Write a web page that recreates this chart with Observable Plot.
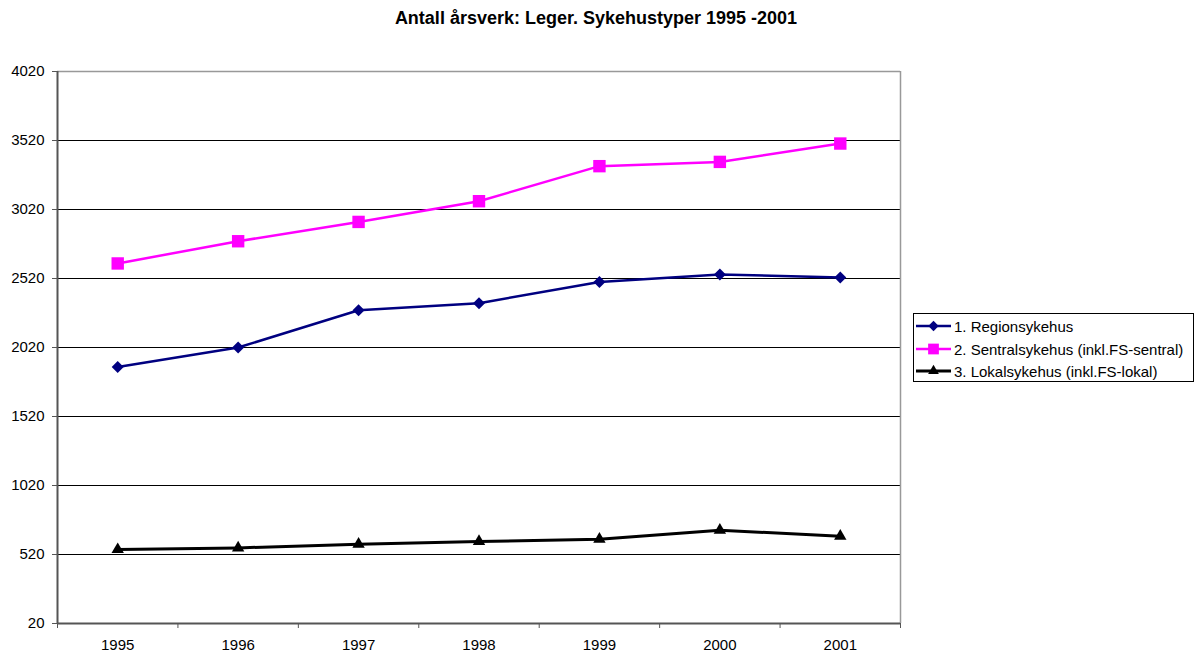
<!DOCTYPE html>
<html><head><meta charset="utf-8">
<script src="https://cdn.jsdelivr.net/npm/d3@7"></script>
<script src="https://cdn.jsdelivr.net/npm/@observablehq/plot@0.6"></script>
<style>
body{margin:0;background:#fff;font-family:"Liberation Sans",Arial,sans-serif;}
#wrap{position:relative;width:1201px;height:654px;}
#title{position:absolute;top:9px;left:0;width:1192px;text-align:center;font-weight:bold;font-size:18px;line-height:18px;}
#legend{position:absolute;left:913px;top:313px;width:279px;height:67px;border:1px solid #000;background:#fff;font-size:15px;}
.row{position:absolute;left:0;height:22px;display:flex;align-items:center;white-space:nowrap;}
.row svg{display:block;margin-right:2px;}
</style></head>
<body>
<div id="wrap">
<div id="chart"></div>
<div id="title">Antall årsverk: Leger. Sykehustyper 1995 -2001</div>
<div id="legend"></div>
</div>
<script>
const years = [1995, 1996, 1997, 1998, 1999, 2000, 2001];
const seriesNames = ["1. Regionsykehus", "2. Sentralsykehus (inkl.FS-sentral)", "3. Lokalsykehus (inkl.FS-lokal)"];
const region  = [1879, 2020, 2290, 2341, 2495, 2549, 2527];
const sentral = [2629, 2790, 2930, 3080, 3334, 3365, 3498];
const lokal   = [556, 568, 595, 614, 631, 696, 653];
const yTicks = [20, 520, 1020, 1520, 2020, 2520, 3020, 3520, 4020];
const colors = ["#000080", "#ff00ff", "#000000"];
const symbols = ["diamond2", "square", "triangle"];
const radii = [5.4, 7, 4.6];
const widths = [2.5, 2.5, 3];

const values = [region, sentral, lokal];
const data = [];
seriesNames.forEach((s, i) => years.forEach((y, j) => data.push({series: s, idx: i, year: y, value: values[i][j]})));
const bounds = years.map(y => y - 0.5).concat([years[years.length - 1] + 0.5]);

const chart = Plot.plot({
  width: 1201, height: 654,
  marginTop: 71, marginBottom: 31, marginLeft: 57, marginRight: 301,
  style: {fontFamily: "Liberation Sans, Arial, sans-serif", fontSize: "15px", color: "#000", background: "transparent"},
  x: {domain: [bounds[0], bounds[bounds.length - 1]]},
  y: {domain: [yTicks[0], yTicks[yTicks.length - 1]]},
  color: {domain: seriesNames, range: colors},
  symbol: {domain: seriesNames, range: symbols},
  marks: [
    Plot.ruleY(yTicks.slice(1, -1), {stroke: "#000", strokeWidth: 1}),
    Plot.ruleY([yTicks[yTicks.length - 1]], {stroke: "#999", strokeWidth: 1.5}),
    Plot.ruleX([bounds[bounds.length - 1]], {stroke: "#999", strokeWidth: 1.5}),
    Plot.ruleX([bounds[0]], {stroke: "#555", strokeWidth: 2}),
    Plot.ruleY([yTicks[0]], {stroke: "#555", strokeWidth: 2}),
    Plot.axisY({ticks: yTicks, tickSize: 5, tickPadding: 8, tickFormat: d => String(d), label: null, stroke: "#555"}),
    Plot.axisX({ticks: bounds, tickSize: 5, tickFormat: () => "", label: null, stroke: "#555"}),
    Plot.axisX({ticks: years, tickSize: 0, tickPadding: 16, tickFormat: d => String(d), label: null}),
    ...seriesNames.map((s, i) => Plot.line(data.filter(d => d.idx === i), {x: "year", y: "value", stroke: "series", strokeWidth: widths[i]})),
    ...seriesNames.map((s, i) => Plot.dot(data.filter(d => d.idx === i), {x: "year", y: "value", symbol: "series", fill: "series", r: radii[i], stroke: null}))
  ]
});
document.getElementById("chart").appendChild(chart);

// legend
const legend = document.getElementById("legend");
const tops = [1, 24, 46];
seriesNames.forEach((s, i) => {
  const row = document.createElement("div");
  row.className = "row";
  row.style.top = tops[i] + "px";
  const svg = d3.create("svg").attr("width", 38).attr("height", 22);
  svg.append("line").attr("x1", 2).attr("x2", 37).attr("y1", 11).attr("y2", 11)
    .attr("stroke", colors[i]).attr("stroke-width", widths[i]);
  const symMap = {diamond2: d3.symbolDiamond2, square: d3.symbolSquare, triangle: d3.symbolTriangle};
  const sz = Math.PI * radii[i] * radii[i] * 0.75;
  svg.append("path").attr("d", d3.symbol(symMap[symbols[i]], sz)())
    .attr("transform", "translate(19.5,11)").attr("fill", colors[i]);
  row.appendChild(svg.node());
  const span = document.createElement("span");
  span.textContent = s;
  row.appendChild(span);
  legend.appendChild(row);
});
</script>
</body></html>
